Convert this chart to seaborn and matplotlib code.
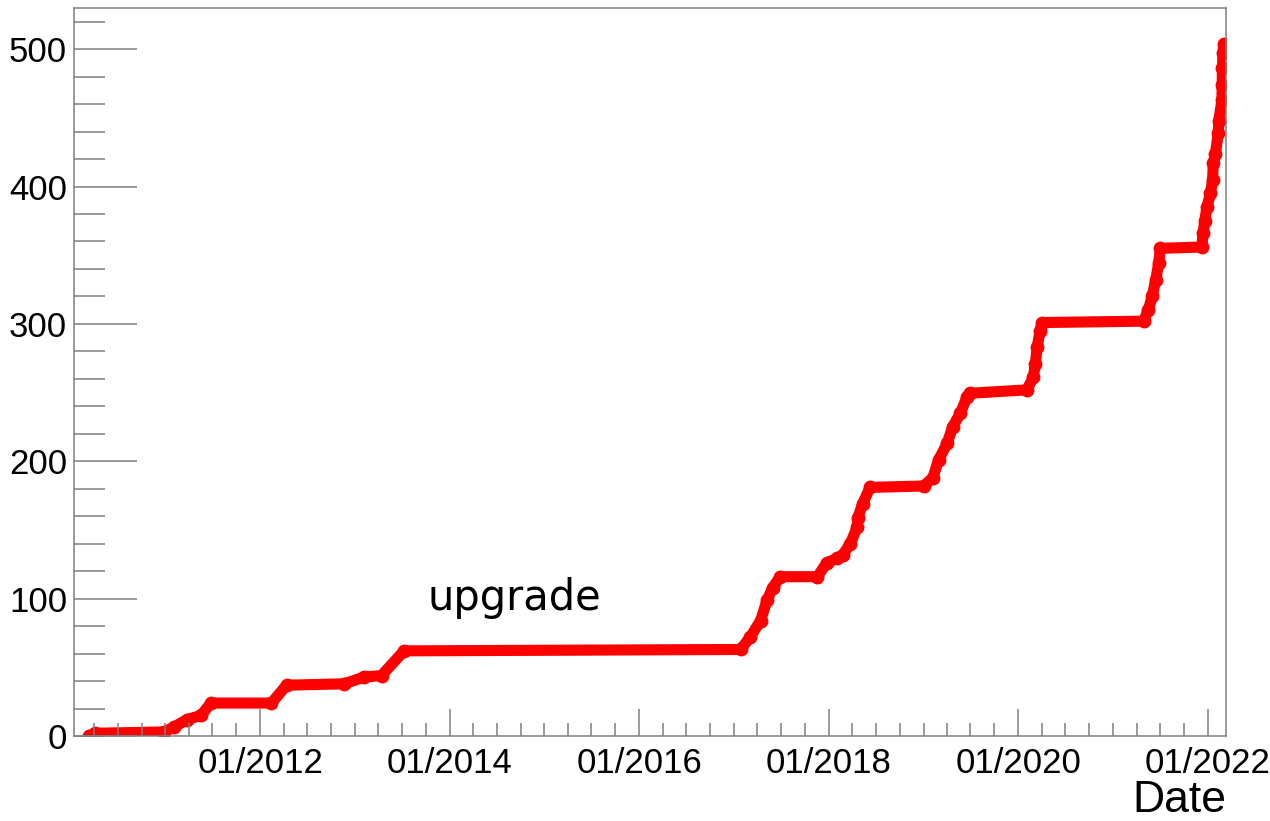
import pandas as pd
import matplotlib
matplotlib.use('Agg')
import matplotlib.pyplot as plt
import matplotlib.dates as mdates
import matplotlib.ticker as ticker
import seaborn as sns


# puntos (fecha, valor acumulado)
fechas = [
    '2010-03-13', '2010-04-05', '2010-12-27', '2011-02-03', '2011-03-25',
    '2011-05-19', '2011-06-25', '2012-02-14', '2012-04-12', '2012-11-20',
    '2013-02-06', '2013-04-13', '2013-07-09', '2017-01-26', '2017-03-04',
    '2017-04-13', '2017-05-08', '2017-05-30', '2017-06-28', '2017-11-18',
    '2017-12-24', '2018-02-03', '2018-02-24', '2018-03-25', '2018-04-20',
    '2018-04-23', '2018-05-11', '2018-06-09', '2019-01-01', '2019-02-06',
    '2019-02-28', '2019-04-02', '2019-04-23', '2019-05-23', '2019-06-18',
    '2019-06-28', '2020-02-03', '2020-02-28', '2020-03-07', '2020-03-14',
    '2020-03-25', '2020-04-01', '2021-04-28', '2021-05-16', '2021-05-31',
    '2021-06-14', '2021-06-25', '2021-07-02', '2021-12-09', '2021-12-13',
    '2021-12-20', '2021-12-28', '2022-01-11', '2022-01-19', '2022-01-22',
    '2022-01-30', '2022-02-10', '2022-02-12', '2022-02-24', '2022-02-25',
    '2022-02-26', '2022-02-28', '2022-03-03',
]
valores = [
    0, 2, 3, 6.5, 12,
    15, 24, 24, 37, 38,
    43, 44, 62, 63, 72,
    84, 99, 108, 116, 116,
    126, 129.5, 132, 140, 152,
    159, 169, 181, 182, 188,
    201, 213, 225, 235, 247,
    249.5, 252, 261, 271, 283,
    295, 301, 302, 310, 320,
    332, 344, 355, 356, 366,
    375, 385, 395, 405, 417,
    424, 439, 448, 463, 474,
    486, 497, 504,
]

df = pd.DataFrame({'Date': pd.to_datetime(fechas), 'N': valores})

sns.set_theme(style='white')
plt.rcParams['font.family'] = ['Liberation Sans', 'DejaVu Sans']

fig, ax = plt.subplots(figsize=(12.7, 8.21), dpi=100)
fig.subplots_adjust(left=0.0583, right=0.9654, bottom=0.1035, top=0.9903)

sns.lineplot(data=df, x='Date', y='N', color='red', linewidth=8,
             marker='o', markersize=10, markeredgewidth=0,
             solid_capstyle='round', solid_joinstyle='round',
             estimator=None, sort=False, ax=ax)

ax.set_xlim(pd.Timestamp('2010-01-14'), pd.Timestamp('2022-03-12'))
ax.set_ylim(0, 530)

ax.xaxis.set_major_locator(mdates.YearLocator(2))
ax.xaxis.set_major_formatter(mdates.DateFormatter('%m/%Y'))
ax.xaxis.set_minor_locator(mdates.MonthLocator(bymonth=[1, 4, 7, 10]))
ax.yaxis.set_major_locator(ticker.MultipleLocator(100))
ax.yaxis.set_minor_locator(ticker.MultipleLocator(20))

gris = '#7f7f7f'
ax.set_axisbelow(False)
ax.tick_params(axis='both', which='both', direction='in', color=gris,
               labelcolor='black', width=1.1, labelsize=25,
               bottom=True, left=True, top=False, right=False)
ax.tick_params(axis='x', which='major', length=19.5, pad=8)
ax.tick_params(axis='x', which='minor', length=9.5)
ax.tick_params(axis='y', which='major', length=45, pad=5)
ax.tick_params(axis='y', which='minor', length=22)

for s in ax.spines.values():
    s.set_color(gris)
    s.set_linewidth(1.1)

ax.set_ylabel('')
ax.set_xlabel('Date', loc='right', fontsize=32, labelpad=0, color='black')

ax.text(pd.Timestamp('2013-10-08'), 92, 'upgrade', fontsize=30,
        family='DejaVu Sans', color='black', ha='left', va='baseline')

plt.savefig('out.png', dpi=100)
